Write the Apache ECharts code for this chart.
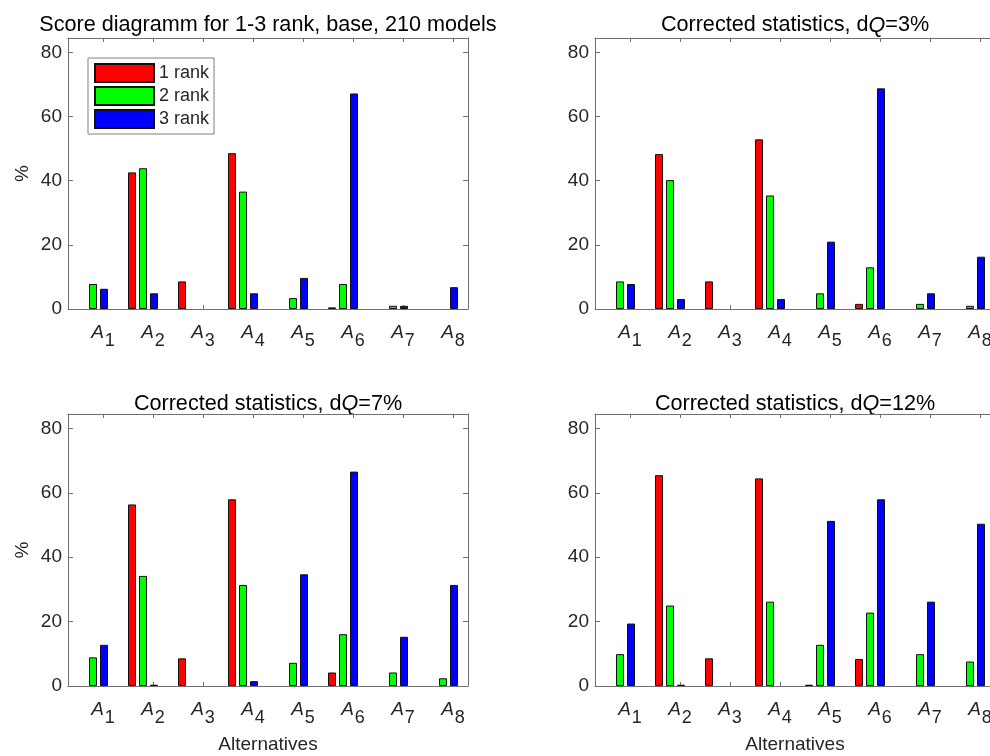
<!DOCTYPE html>
<html><head><meta charset="utf-8">
<script src="https://cdn.jsdelivr.net/npm/echarts@6/dist/echarts.min.js"></script>
<style>html,body{margin:0;padding:0;background:#fff}#chart{width:990px;height:756px}</style>
</head><body><div id="chart"></div>
<script>
// ---- data ----
const categories = ['A1', 'A2', 'A3', 'A4', 'A5', 'A6', 'A7', 'A8'];
const seriesNames = ['1 rank', '2 rank', '3 rank'];
const yTickValues = [0, 20, 40, 60, 80];

const base_rank1 = [0, 42.6, 8.6, 48.6, 0, 0.5, 0, 0];
const base_rank2 = [7.8, 43.9, 0, 36.6, 3.4, 7.8, 1.0, 0];
const base_rank3 = [6.3, 4.9, 0, 4.9, 9.7, 67.2, 1.0, 6.8];

const dq3_rank1 = [0, 48.3, 8.6, 52.9, 0, 1.6, 0, 0];
const dq3_rank2 = [8.6, 40.2, 0, 35.4, 4.9, 13.0, 1.6, 1.0];
const dq3_rank3 = [7.8, 3.1, 0, 3.1, 21.0, 68.8, 4.9, 16.3];

const dq7_rank1 = [0, 56.4, 8.6, 58.0, 0, 4.2, 0, 0];
const dq7_rank2 = [8.9, 34.2, 0, 31.4, 7.2, 16.1, 4.2, 2.4];
const dq7_rank3 = [12.8, 0.4, 0, 1.5, 34.7, 66.6, 15.3, 31.4];

const dq12_rank1 = [0, 65.5, 8.6, 64.5, 0.4, 8.4, 0, 0];
const dq12_rank2 = [9.9, 25.0, 0, 26.2, 12.8, 22.8, 9.9, 7.6];
const dq12_rank3 = [19.4, 0.4, 0, 0, 51.3, 58.0, 26.2, 50.4];

const titles = [
  'Score diagramm for 1-3 rank, base, 210 models',
  'Corrected statistics, d{q|Q}=3%',
  'Corrected statistics, d{q|Q}=7%',
  'Corrected statistics, d{q|Q}=12%'
];
const xTitle = 'Alternatives';
const yTitle = '%';

// ---- style ----
const FONT = "'Liberation Sans', Arial, Helvetica, sans-serif";
const TEXT = '#262626';
const AXIS = '#707070';
const COLORS = ['#ff0000', '#00ff00', '#0000ff'];

const panels = [
  { title: titles[0], data: [base_rank1, base_rank2, base_rank3], left: 68, top: 38, height: 271, yName: yTitle, xName: '', tY: 25.5 },
  { title: titles[1], data: [dq3_rank1, dq3_rank2, dq3_rank3], left: 595, top: 38, height: 271, yName: '', xName: '', tY: 25.5 },
  { title: titles[2], data: [dq7_rank1, dq7_rank2, dq7_rank3], left: 68, top: 414, height: 272, yName: yTitle, xName: xTitle, tY: 404 },
  { title: titles[3], data: [dq12_rank1, dq12_rank2, dq12_rank3], left: 595, top: 414, height: 272, yName: '', xName: xTitle, tY: 404 }
];

const PW = 400;
const YMAX = 84.5;
const grid = [], xAxis = [], yAxis = [], series = [], graphic = [];
const tickVals = categories.map((c, k) => k + 1.2);

panels.forEach((p, i) => {
  grid.push({ left: p.left, width: PW, top: p.top, height: p.height, containLabel: false, outerBoundsMode: 'none' });
  xAxis.push({ type: 'category', gridIndex: i, data: categories, show: false, boundaryGap: true });
  xAxis.push({
    type: 'value', gridIndex: i, position: 'bottom', min: 0.5, max: 8.5,
    splitLine: { show: false },
    axisLine: { show: true, onZero: false, lineStyle: { color: AXIS, width: 1 } },
    axisTick: { show: true, inside: true, length: 4, customValues: tickVals, lineStyle: { color: AXIS } },
    axisLabel: {
      show: true, customValues: tickVals, margin: 14,
      formatter: (v) => { const c = categories[Math.round(v - 1.2)]; return '{a|' + c.charAt(0) + '}{s|' + c.slice(1) + '}'; },
      rich: {
        a: { fontSize: 19, fontStyle: 'italic', fontFamily: FONT, color: TEXT, lineHeight: 20, verticalAlign: 'top' },
        s: { fontSize: 18, fontFamily: FONT, color: TEXT, lineHeight: 20, padding: [9, 0, 0, 1], verticalAlign: 'top' }
      }
    },
    name: p.xName, nameLocation: 'middle', nameGap: 49,
    nameTextStyle: { fontSize: 19, fontFamily: FONT, color: TEXT }
  });
  xAxis.push({
    type: 'value', gridIndex: i, position: 'top', min: 0.5, max: 8.5,
    splitLine: { show: false },
    axisLine: { show: true, onZero: false, lineStyle: { color: AXIS, width: 1 } },
    axisTick: { show: true, inside: true, length: 4, customValues: tickVals, lineStyle: { color: AXIS } },
    axisLabel: { show: false }
  });
  yAxis.push({
    type: 'value', gridIndex: i, position: 'left', min: 0, max: YMAX,
    splitLine: { show: false },
    axisLine: { show: true, onZero: false, lineStyle: { color: AXIS, width: 1 } },
    axisTick: { show: true, inside: true, length: 5, customValues: yTickValues, lineStyle: { color: AXIS } },
    axisLabel: { show: true, customValues: yTickValues, margin: 6, fontSize: 19, fontFamily: FONT, color: TEXT },
    name: p.yName, nameLocation: 'middle', nameGap: 36,
    nameTextStyle: { fontSize: 19, fontFamily: FONT, color: TEXT }
  });
  yAxis.push({
    type: 'value', gridIndex: i, position: 'right', min: 0, max: YMAX,
    splitLine: { show: false },
    axisLine: { show: true, onZero: false, lineStyle: { color: AXIS, width: 1 } },
    axisTick: { show: true, inside: true, length: 5, customValues: yTickValues, lineStyle: { color: AXIS } },
    axisLabel: { show: false }
  });
  p.data.forEach((d, s) => {
    series.push({
      type: 'bar', name: seriesNames[s], xAxisIndex: 3 * i, yAxisIndex: 2 * i,
      data: d.map(v => (v === 0 ? null : v)), barWidth: 8, barGap: '37.5%',
      itemStyle: { color: COLORS[s], borderColor: '#111', borderWidth: 1 },
      emphasis: { disabled: true }, silent: true
    });
  });
  graphic.push({
    type: 'text', x: p.left + PW / 2, y: p.tY,
    style: {
      text: p.title, fontSize: 21.6, fontFamily: FONT, fill: '#000',
      align: 'center', verticalAlign: 'middle',
      rich: { q: { fontSize: 21.6, fontFamily: FONT, fontStyle: 'italic', fill: '#000' } }
    }
  });
});

const chart = echarts.init(document.getElementById('chart'), null, { renderer: 'canvas' });
chart.setOption({
  animation: false,
  backgroundColor: '#ffffff',
  grid, xAxis, yAxis, series, graphic,
  legend: {
    data: seriesNames, left: 88, top: 58, orient: 'vertical', icon: 'rect',
    itemWidth: 59, itemHeight: 18, itemGap: 3, padding: [5, 5, 5, 6],
    borderColor: '#808080', borderWidth: 1, backgroundColor: '#ffffff',
    selectedMode: false,
    textStyle: { fontSize: 18, fontFamily: FONT, color: TEXT }
  }
});
</script></body></html>
